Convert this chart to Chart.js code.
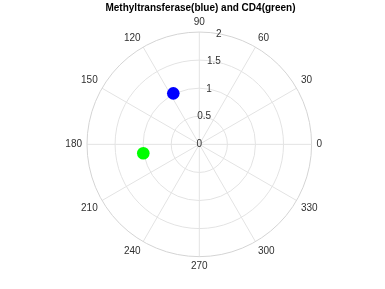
<!DOCTYPE html>
<html>
<head>
<meta charset="utf-8">
<script src="https://cdn.jsdelivr.net/npm/chart.js@4/dist/chart.umd.min.js"></script>
<style>
  body { margin: 0; background: #fff; }
  canvas { display: block; }
</style>
</head>
<body>
<canvas id="myChart" width="385" height="289"></canvas>
<script>
// polar data (theta in degrees, r)
var blueTheta = [117];
var blueR = [1.02];
var greenTheta = [189];
var greenR = [1.01];

var rTicks = [0, 0.5, 1, 1.5, 2];
var thetaTicks = [0, 30, 60, 90, 120, 150, 180, 210, 240, 270, 300, 330];
var rMax = 2;

function toXY(thetas, rs) {
  var out = [];
  for (var i = 0; i < thetas.length; i++) {
    var a = thetas[i] * Math.PI / 180;
    out.push({ x: rs[i] * Math.cos(a), y: rs[i] * Math.sin(a) });
  }
  return out;
}

var polarGrid = {
  id: 'polarGrid',
  beforeDatasetsDraw: function (chart) {
    var c = chart.ctx;
    var xs = chart.scales.x, ys = chart.scales.y;
    var cx = xs.getPixelForValue(0), cy = ys.getPixelForValue(0);
    var pr = function (r) { return xs.getPixelForValue(r) - cx; };
    c.save();
    c.lineWidth = 1;
    // spokes
    c.strokeStyle = '#e3e3e3';
    thetaTicks.forEach(function (t) {
      var a = t * Math.PI / 180;
      c.beginPath();
      c.moveTo(cx, cy);
      c.lineTo(cx + pr(rMax) * Math.cos(a), cy - pr(rMax) * Math.sin(a));
      c.stroke();
    });
    // circles
    rTicks.forEach(function (r) {
      if (r == 0) return;
      c.strokeStyle = r == rMax ? '#d4d4d4' : '#e3e3e3';
      c.beginPath();
      c.arc(cx, cy, pr(r), 0, Math.PI * 2);
      c.stroke();
    });
    // theta labels
    c.fillStyle = '#303030';
    c.font = '10px "Liberation Sans", Arial, sans-serif';
    thetaTicks.forEach(function (t) {
      var a = t * Math.PI / 180;
      var rr = pr(rMax) + 5;
      var co = Math.cos(a), si = Math.sin(a);
      c.textAlign = co > 0.1 ? 'left' : (co < -0.1 ? 'right' : 'center');
      c.textBaseline = si > 0.1 ? 'bottom' : (si < -0.1 ? 'top' : 'middle');
      c.fillText(String(t), cx + rr * co, cy - rr * si);
    });
    // r labels along 80 deg
    c.textAlign = 'center';
    c.textBaseline = 'middle';
    var ra = 80 * Math.PI / 180;
    rTicks.forEach(function (r) {
      c.fillText(String(r), cx + pr(r) * Math.cos(ra), cy - pr(r) * Math.sin(ra));
    });
    c.restore();
  },
  afterDraw: function (chart) {
    var c = chart.ctx;
    c.save();
    c.fillStyle = '#000';
    c.font = 'bold 10px "Liberation Sans", Arial, sans-serif';
    c.textAlign = 'center';
    c.textBaseline = 'middle';
    c.fillText('Methyltransferase(blue) and CD4(green)', 200.5, 8);
    c.restore();
  }
};

var ctx = document.getElementById('myChart');

var data = {
  datasets: [{
    label: 'Methyltransferase',
    data: toXY(blueTheta, blueR),
    backgroundColor: '#0000ff',
    borderWidth: 0,
    pointRadius: 6.3
  }, {
    label: 'CD4',
    data: toXY(greenTheta, greenR),
    backgroundColor: '#00ff00',
    borderWidth: 0,
    pointRadius: 6.3
  }]
}

var options = {
  responsive: false,
  animation: false,
  layout: { padding: { left: 87, right: 73.4, top: 32.1, bottom: 32.4 } },
  scales: {
    x: { type: 'linear', min: -rMax, max: rMax, display: false },
    y: { type: 'linear', min: -rMax, max: rMax, display: false }
  },
  plugins: { legend: { display: false }, tooltip: { enabled: false }, title: { display: false } }
}

var polarChart = new Chart(ctx, {
  type: 'scatter',
  data: data,
  options: options,
  plugins: [polarGrid]
});
</script>
</body>
</html>
